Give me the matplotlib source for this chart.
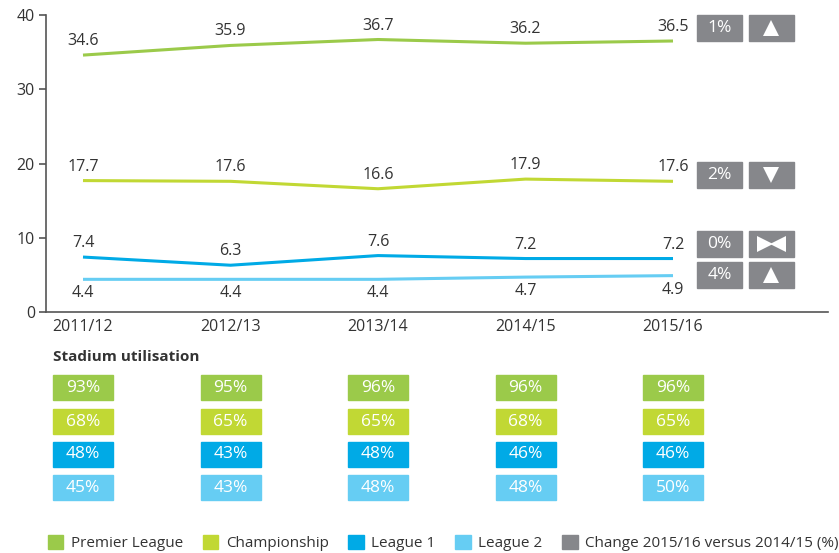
import matplotlib
matplotlib.use('Agg')
import matplotlib.pyplot as plt
from matplotlib.patches import Rectangle, Patch

plt.rcParams['font.family'] = ['Open Sans', 'DejaVu Sans']

# data
seasons = ['2011/12', '2012/13', '2013/14', '2014/15', '2015/16']
leagues = ['Premier League', 'Championship', 'League 1', 'League 2']
premier = [34.6, 35.9, 36.7, 36.2, 36.5]
championship = [17.7, 17.6, 16.6, 17.9, 17.6]
league1 = [7.4, 6.3, 7.6, 7.2, 7.2]
league2 = [4.4, 4.4, 4.4, 4.7, 4.9]
util_premier = [93, 95, 96, 96, 96]
util_championship = [68, 65, 65, 68, 65]
util_league1 = [48, 43, 48, 46, 46]
util_league2 = [45, 43, 48, 48, 50]
change_pct = [1, 2, 0, 4]
change_dir = ['up', 'down', 'flat', 'up']

colors = ['#9BCA4A', '#C1D834', '#00AAE6', '#66CDF3']
grey = '#86878B'
txt = '#333333'

series = [premier, championship, league1, league2]
utils = [util_premier, util_championship, util_league1, util_league2]

W, H = 839, 553
fig = plt.figure(figsize=(W / 100, H / 100), dpi=100)

xs = list(range(len(seasons)))
px = 147.5  # pixels per season
x0 = (46 - 83) / px
x1 = (828 - 83) / px

ax = fig.add_axes([46 / W, (H - 312) / H, (828 - 46) / W, (312 - 15) / H])
ax.set_xlim(x0, x1)
ax.set_ylim(0, 40)
for s in ['top', 'right']:
    ax.spines[s].set_visible(False)
for s in ['left', 'bottom']:
    ax.spines[s].set_color('#555555')
    ax.spines[s].set_linewidth(1.2)
ax.set_yticks([0, 10, 20, 30, 40])
ax.tick_params(axis='y', length=5, width=1.2, color='#555555', labelsize=11.5,
               labelcolor=txt, pad=3)
ax.set_xticks(xs)
ax.set_xticklabels(seasons)
ax.tick_params(axis='x', length=0, labelsize=11.5, labelcolor=txt, pad=5)

for i, (vals, c) in enumerate(zip(series, colors)):
    ax.plot(xs, vals, color=c, lw=2.2, solid_capstyle='butt')
    off = -14 if i == 3 else 14
    for x, v in zip(xs, vals):
        ax.annotate(f'{v:.1f}', (x, v), xytext=(0, off), textcoords='offset pixels',
                    ha='center', va='center', fontsize=11.5, color=txt)

# change boxes
box_y = [38.2, 18.5, 9.2, 5.0]
bh = 26 / 7.425
for yc, pct, d in zip(box_y, change_pct, change_dir):
    bx = (697 - 83) / px
    ax.add_patch(Rectangle((bx, yc - bh / 2), 45 / px, bh, color=grey, clip_on=False))
    ax.text(bx + 22.5 / px, yc, f'{pct}%', ha='center', va='center', color='white',
            fontsize=12.5)
    ax2x = (749 - 83) / px
    ax.add_patch(Rectangle((ax2x, yc - bh / 2), 45 / px, bh, color=grey, clip_on=False))
    cx = ax2x + 22.5 / px
    if d == 'up':
        ax.plot(cx, yc, marker='^', ms=11, color='white', mew=0, clip_on=False)
    elif d == 'down':
        ax.plot(cx, yc, marker='v', ms=11, color='white', mew=0, clip_on=False)
    else:
        ax.plot(cx - 7 / px, yc, marker='>', ms=12, color='white', mew=0, clip_on=False)
        ax.plot(cx + 7 / px, yc, marker='<', ms=12, color='white', mew=0, clip_on=False)

# stadium utilisation table
tab = fig.add_axes([46 / W, 0, (828 - 46) / W, 1])
tab.set_xlim(x0, x1)
tab.set_ylim(H, 0)
tab.axis('off')
tab.text((53 - 83) / px, 357, 'Stadium utilisation', ha='left', va='center',
         fontsize=11, fontweight='bold', color=txt)
row_top = [375, 409, 442, 475]
for r, (vals, c) in enumerate(zip(utils, colors)):
    for x, v in zip(xs, vals):
        tab.add_patch(Rectangle((x - 30 / px, row_top[r]), 60 / px, 25, color=c))
        tab.text(x, row_top[r] + 12.5, f'{v}%', ha='center', va='center',
                 color='white', fontsize=12.5)

handles = [Patch(color=c, label=l) for c, l in zip(colors, leagues)]
handles.append(Patch(color=grey, label='Change 2015/16 versus 2014/15 (%)'))
fig.legend(handles=handles, loc='center left', bbox_to_anchor=(34 / W, 1 - 543 / H),
           ncol=5, frameon=False, fontsize=11, handlelength=1.0, handleheight=1.0,
           handletextpad=0.5, columnspacing=1.3, labelcolor=txt)

fig.savefig('out.png', dpi=100)
